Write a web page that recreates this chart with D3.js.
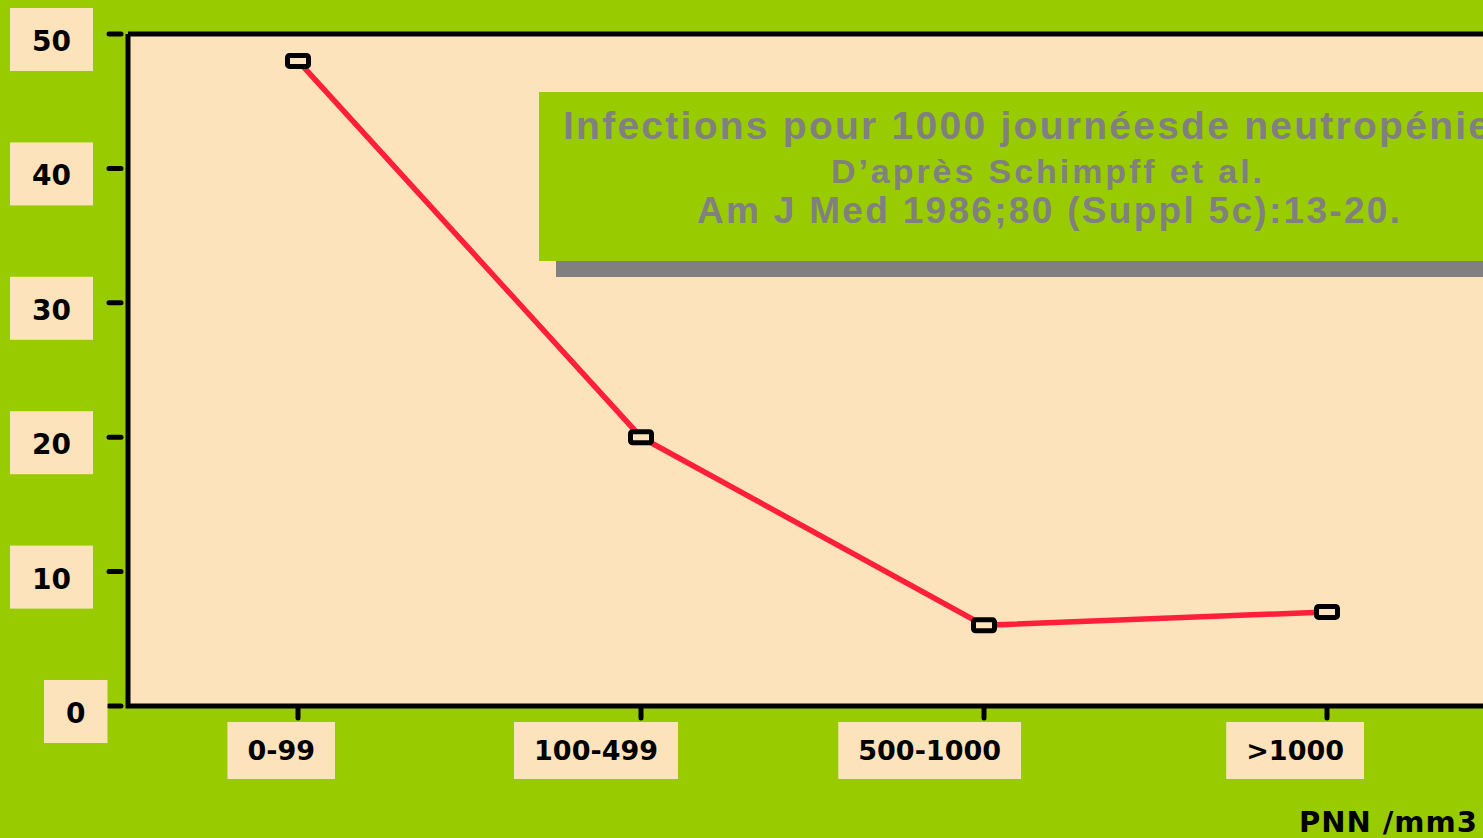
<!doctype html>
<meta charset="utf-8">
<style>
body { margin: 0; background: #99cc00; }
svg { display: block; }
.lbl { font-family: "DejaVu Sans", sans-serif; font-weight: 700; fill: #000; }
.ttl { font-family: "Liberation Sans", Arial, sans-serif; font-weight: 700; fill: #808080; }
</style>
<html lang="en">
<body>
<script src="https://d3js.org/d3.v7.min.js"></script>
<script>
// data
var categories = ["0-99", "100-499", "500-1000", ">1000"];
var infections = [48, 20, 6, 7];
var yTicks = [0, 10, 20, 30, 40, 50];
var titleLines = ["Infections pour 1000 journéesde neutropénie", "D\u2019après Schimpff et al.", "Am J Med 1986;80 (Suppl 5c):13-20."];
var xTitle = "PNN /mm3";

var W = 1483, H = 838;
var mLeft = 128, mTop = 34, mBottom = 706;
var plotFill = "#fce3bc";

var svg = d3.select("body").append("svg")
    .attr("width", W)
    .attr("height", H);

var x = d3.scalePoint().domain(categories).range([298, 1327]);
var y = d3.scaleLinear().domain([0, 50]).range([mBottom, mTop]);

// plot area
svg.append("rect")
    .attr("x", mLeft).attr("y", mTop)
    .attr("width", W - mLeft + 10).attr("height", mBottom - mTop)
    .attr("fill", plotFill);

// title box with shadow
svg.append("rect").attr("x", 556).attr("y", 108).attr("width", 1020).attr("height", 169).attr("fill", "#808080");
svg.append("rect").attr("x", 539).attr("y", 92).attr("width", 1020).attr("height", 169).attr("fill", "#99cc00");
// line sizes / widths measured off the slide
var tsize = [39, 34, 37], tbase = [139, 183, 223], tlen = [927, 431, 703], tx = [563, 831, 697];
titleLines.forEach(function(t, i) {
  svg.append("text").attr("class", "ttl")
      .attr("x", tx[i]).attr("y", tbase[i])
      .attr("textLength", tlen[i])
      .attr("lengthAdjust", "spacing")
      .style("font-size", tsize[i] + "px")
      .text(t);
});

// line
var line = d3.line()
    .x(function(d, i) { return x(categories[i]); })
    .y(function(d) { return y(d); });

svg.append("path")
    .datum(infections)
    .attr("fill", "none")
    .attr("stroke", "#ff1f3a")
    .attr("stroke-width", 5.5)
    .attr("d", line);

// markers
svg.selectAll(".mk").data(infections).enter().append("rect")
    .attr("class", "mk")
    .attr("x", function(d, i) { return x(categories[i]) - 10.5; })
    .attr("y", function(d) { return y(d) - 5.5; })
    .attr("width", 21).attr("height", 11)
    .attr("rx", 2)
    .attr("fill", plotFill)
    .attr("stroke", "#000")
    .attr("stroke-width", 5);

// axes frame
svg.append("path")
    .attr("d", "M" + mLeft + "," + mTop + "H" + (W + 10) + "M" + mLeft + "," + mTop + "V" + mBottom + "H" + (W + 10))
    .attr("fill", "none").attr("stroke", "#000").attr("stroke-width", 5);

// y ticks + labels
var yg = svg.append("g");
yTicks.forEach(function(v) {
  yg.append("line")
      .attr("x1", 109).attr("x2", 121)
      .attr("y1", y(v)).attr("y2", y(v))
      .attr("stroke", "#000").attr("stroke-width", 5).attr("stroke-linecap", "round");
  var t = yg.append("text").attr("class", "lbl")
      .attr("y", y(v) + 17)
      .attr("text-anchor", "middle")
      .style("font-size", "28px")
      .text(v);
  var bw = t.node().getBBox().width + 44;
  var bx = v === 0 ? 44 : 93 - bw;
  yg.insert("rect", "text")
      .attr("x", bx).attr("y", y(v) - 26)
      .attr("width", bw).attr("height", 63)
      .attr("fill", plotFill);
  t.attr("x", bx + bw / 2);
});

// x ticks + labels
var xg = svg.append("g");
categories.forEach(function(c) {
  xg.append("line")
      .attr("x1", x(c)).attr("x2", x(c))
      .attr("y1", mBottom + 3).attr("y2", mBottom + 12)
      .attr("stroke", "#000").attr("stroke-width", 5).attr("stroke-linecap", "round");
  var t = xg.append("text").attr("class", "lbl")
      .attr("y", 760)
      .attr("text-anchor", "middle")
      .style("font-size", "27px")
      .text(c);
  var bw = t.node().getBBox().width + 40;
  var bx = x(c) + 37 - bw;
  xg.insert("rect", "text")
      .attr("x", bx).attr("y", 722)
      .attr("width", bw).attr("height", 57)
      .attr("fill", plotFill);
  t.attr("x", bx + bw / 2);
});

// x axis title
svg.append("text").attr("class", "lbl")
    .attr("x", 1478).attr("y", 832)
    .attr("text-anchor", "end")
    .style("font-size", "29px")
    .style("letter-spacing", "1px")
    .text(xTitle);
</script>
</body>
</html>
